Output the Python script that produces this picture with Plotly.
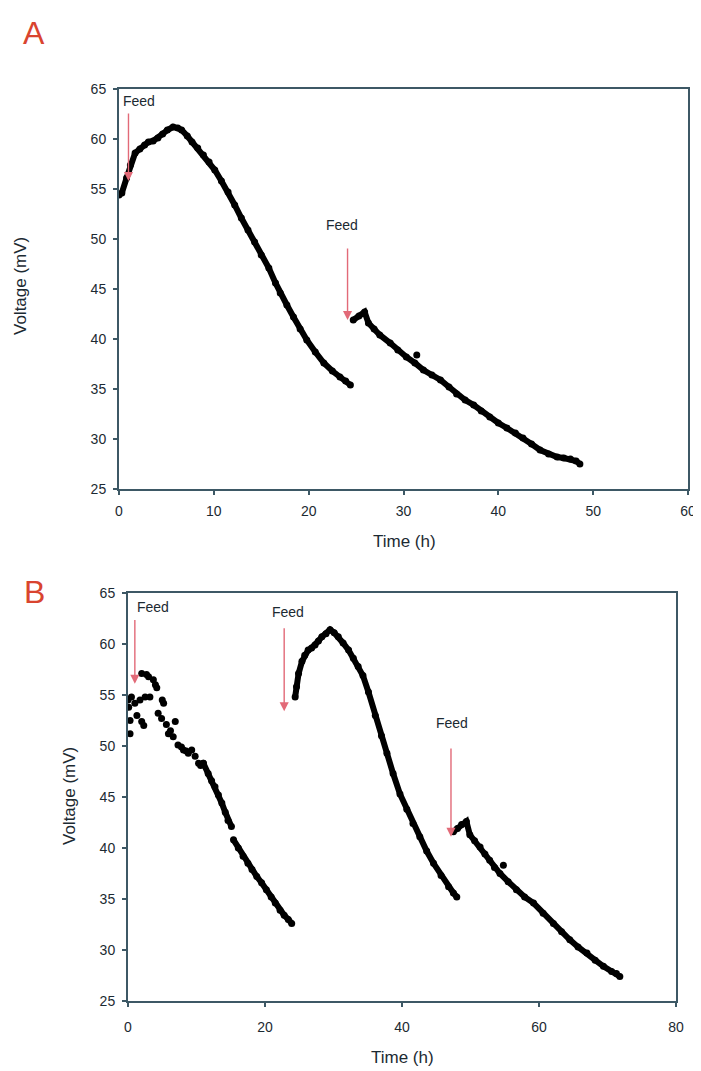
import plotly.graph_objects as go

# ---------------- Data ----------------
# Panel A, first feed cycle
A1_t = [0.0, 0.3, 0.8, 1.2, 1.7, 2.2, 2.7, 3.1, 3.6, 4.1, 4.6, 5.1, 5.7, 6.2, 6.6, 7.2, 7.7,
        8.3, 8.9, 9.5, 10.1, 10.8, 11.5, 12.2, 12.9, 13.6, 14.3, 15.0, 15.8, 16.5, 17.0, 17.7,
        18.4, 19.1, 19.8, 20.7, 21.6, 22.5, 23.3, 23.9, 24.4]
A1_v = [54.4, 54.6, 56.1, 57.4, 58.6, 59.0, 59.4, 59.7, 59.8, 60.1, 60.5, 60.9, 61.2, 61.1, 60.9,
        60.3, 59.7, 59.1, 58.4, 57.7, 56.9, 55.8, 54.7, 53.4, 52.1, 50.9, 49.7, 48.4, 47.1, 45.6,
        44.6, 43.4, 42.2, 41.0, 39.9, 38.7, 37.6, 36.8, 36.2, 35.8, 35.4]
# Panel A, second feed cycle
A2_t = [24.7, 25.3, 25.9, 26.3, 26.9, 27.5, 28.6, 29.4, 30.3, 31.2, 32.1, 33.0, 33.9, 34.8, 35.6,
        36.5, 37.4, 38.2, 39.1, 40.0, 40.9, 41.8, 42.6, 43.5, 44.4, 45.3, 46.2, 46.9, 47.6, 48.2, 48.6]
A2_v = [41.9, 42.3, 42.7, 41.6, 41.0, 40.4, 39.6, 38.9, 38.2, 37.6, 36.9, 36.4, 35.9, 35.2, 34.5,
        33.9, 33.4, 32.8, 32.2, 31.6, 31.1, 30.6, 30.1, 29.5, 28.9, 28.5, 28.2, 28.1, 28.0, 27.8, 27.5]
A_out_t = [31.4]
A_out_v = [38.4]

# Panel B, first cycle (scattered start)
B1n_t = [0.0, 0.1, 0.3, 0.3, 0.5, 1.0, 1.3, 1.75, 2.0, 2.0, 2.3, 2.5, 2.7, 3.0, 3.2, 3.7, 4.0, 4.2,
         4.4, 4.9, 5.0, 5.2, 5.6, 5.9, 6.2, 6.6, 6.9, 7.3, 7.8, 8.1, 8.5, 8.8, 9.3, 9.8, 10.3, 10.6, 11.0]
B1n_v = [54.5, 53.8, 51.2, 52.5, 54.8, 54.2, 53.0, 54.5, 52.4, 57.1, 52.0, 54.8, 57.0, 56.8, 54.8,
         56.5, 56.0, 55.7, 53.2, 52.7, 54.5, 54.2, 52.1, 51.2, 51.5, 50.9, 52.4, 50.1, 49.9, 49.6,
         49.5, 49.3, 49.6, 49.0, 48.3, 48.1, 48.3]
B1s_t = [11.0, 11.7, 12.2, 12.7, 13.2, 13.7, 14.2, 14.6, 15.1]
B1s_v = [48.3, 47.3, 46.6, 46.0, 45.2, 44.4, 43.5, 42.7, 42.1]
B1e_t = [15.4, 16.1, 16.8, 17.5, 18.1, 18.8, 19.5, 20.2, 20.9, 21.5, 22.2, 22.8, 23.4, 23.9]
B1e_v = [40.8, 40.0, 39.2, 38.5, 37.9, 37.2, 36.6, 35.9, 35.2, 34.6, 33.9, 33.4, 33.0, 32.6]
# Panel B, second cycle
B2_t = [24.4, 24.6, 24.9, 25.4, 25.8, 26.3, 26.8, 27.3, 27.8, 28.3, 28.9, 29.5, 30.1, 30.7, 31.4,
        32.2, 32.9, 33.6, 34.3, 35.1, 36.1, 37.0, 37.8, 38.7, 39.7, 40.7, 41.6, 42.6, 43.6, 44.6,
        45.7, 46.8, 47.5, 48.0]
B2_v = [54.8, 55.8, 57.1, 58.3, 58.9, 59.4, 59.6, 59.9, 60.3, 60.7, 61.0, 61.4, 61.1, 60.7, 60.1,
        59.4, 58.6, 57.8, 56.9, 55.3, 53.0, 51.0, 49.3, 47.3, 45.3, 43.8, 42.4, 41.1, 39.7, 38.5,
        37.3, 36.2, 35.6, 35.2]
# Panel B, third cycle
B3_t = [47.5, 48.1, 48.7, 49.4, 49.9, 50.6, 51.4, 52.1, 52.8, 53.5, 54.3, 55.5, 56.7, 57.9, 59.2,
        60.6, 62.1, 63.3, 64.5, 65.7, 67.0, 68.2, 69.4, 70.6, 71.3, 71.8]
B3_v = [41.6, 41.9, 42.3, 42.6, 41.3, 40.7, 40.1, 39.4, 38.8, 38.1, 37.5, 36.7, 35.9, 35.2, 34.6,
        33.6, 32.6, 31.8, 31.0, 30.3, 29.7, 29.0, 28.4, 27.9, 27.7, 27.4]
B_out_t = [54.8]
B_out_v = [38.3]

# Feed arrows: (tail t, tail V, tip t, tip V, label t, label V)
A_feeds = [(1.0, 62.7, 1.0, 55.8, 2.1, 63.8), (24.1, 49.2, 24.1, 41.9, 23.5, 51.4)]
B_feeds = [(1.0, 62.5, 1.0, 56.1, 3.65, 63.6), (22.8, 61.7, 22.8, 53.4, 23.3, 63.1),
           (47.15, 49.9, 47.15, 41.1, 47.3, 52.3)]

X_TICKS_A = [0, 10, 20, 30, 40, 50, 60]
X_TICKS_B = [0, 20, 40, 60, 80]
Y_TICKS = [25, 30, 35, 40, 45, 50, 55, 60, 65]

# ---------------- Figure ----------------
W, H = 701, 1071
OFF = 8  # page body margin
fig = go.Figure()

MS = 7
def line_trace(x, y, xa, ya):
    return go.Scatter(x=x, y=y, mode="lines+markers", xaxis=xa, yaxis=ya,
                      line=dict(color="black", width=6),
                      marker=dict(color="black", size=MS), showlegend=False, hoverinfo="skip")

def dot_trace(x, y, xa, ya):
    return go.Scatter(x=x, y=y, mode="markers", xaxis=xa, yaxis=ya,
                      marker=dict(color="black", size=MS), showlegend=False, hoverinfo="skip")

fig.add_trace(line_trace(A1_t, A1_v, "x", "y"))
fig.add_trace(line_trace(A2_t, A2_v, "x", "y"))
fig.add_trace(dot_trace(A_out_t, A_out_v, "x", "y"))

fig.add_trace(dot_trace(B1n_t, B1n_v, "x2", "y2"))
fig.add_trace(line_trace(B1s_t, B1s_v, "x2", "y2"))
fig.add_trace(line_trace(B1e_t, B1e_v, "x2", "y2"))
fig.add_trace(line_trace(B2_t, B2_v, "x2", "y2"))
fig.add_trace(line_trace(B3_t, B3_v, "x2", "y2"))
fig.add_trace(dot_trace(B_out_t, B_out_v, "x2", "y2"))

AX_COL = "#3d5865"
TXT_COL = "#1c2a32"
FONT = "Liberation Sans, Arial, sans-serif"

def axis(domain, rng, tickvals, anchor):
    return dict(domain=domain, range=rng, tickvals=tickvals, anchor=anchor,
                automargin=False, ticklabeloverflow="allow",
                showline=True, linecolor=AX_COL, linewidth=2, mirror=True,
                ticks="outside", ticklen=4, tickwidth=1.5, tickcolor=AX_COL,
                showgrid=False, zeroline=False,
                tickfont=dict(family=FONT, size=14, color=TXT_COL))

def px_x(p):
    return (p - OFF) / W

def px_y(p):
    return 1 - (p - OFF) / H

xa = axis([px_x(119), px_x(688)], [0, 60], X_TICKS_A, "y")
ya = axis([px_y(489), px_y(89)], [25, 65], Y_TICKS, "x")
xb = axis([px_x(128), px_x(676)], [0, 80], X_TICKS_B, "y2")
yb = axis([px_y(1001), px_y(593)], [25, 65], Y_TICKS, "x2")
xa["ticklabelstandoff"] = 4
xb["ticklabelstandoff"] = 8
ya["ticklabelstandoff"] = 4
yb["ticklabelstandoff"] = 4

fig.update_layout(
    template="none",
    width=W, height=H, autosize=False,
    margin=dict(l=0, r=0, t=0, b=0, pad=0),
    paper_bgcolor="white", plot_bgcolor="white",
    xaxis=xa, yaxis=ya, xaxis2=xb, yaxis2=yb,
)

ARROW_COL = "#e26a78"
annotations = []
for (xr, yr, feeds) in [("x", "y", A_feeds), ("x2", "y2", B_feeds)]:
    for (tt, tv, ht, hv, lt, lv) in feeds:
        annotations.append(dict(x=ht, y=hv, ax=tt, ay=tv, xref=xr, yref=yr,
                                axref=xr, ayref=yr, text="", showarrow=True,
                                arrowhead=2, arrowsize=1.3, arrowwidth=1.4,
                                arrowcolor=ARROW_COL))
        annotations.append(dict(x=lt, y=lv, xref=xr, yref=yr, text="Feed", showarrow=False,
                                xanchor="center", yanchor="middle",
                                font=dict(family=FONT, size=14, color=TXT_COL)))

# panel letters
for (xp, yp, txt) in [(34, 33, "A"), (35, 592, "B")]:
    annotations.append(dict(x=px_x(xp), y=px_y(yp), xref="paper", yref="paper", text=txt,
                            xanchor="center", yanchor="middle", showarrow=False,
                            font=dict(family=FONT, size=32, color="#d9442f")))
# axis titles
for (xp, yp, txt, ang) in [(21, 286, "Voltage (mV)", -90), (404, 541, "Time (h)", 0),
                           (69, 796, "Voltage (mV)", -90), (402, 1057, "Time (h)", 0)]:
    annotations.append(dict(x=px_x(xp), y=px_y(yp), xref="paper", yref="paper", text=txt,
                            textangle=ang, showarrow=False, xanchor="center", yanchor="middle",
                            font=dict(family=FONT, size=17, color=TXT_COL)))

fig.update_layout(annotations=annotations)
fig.write_html("out.html")
